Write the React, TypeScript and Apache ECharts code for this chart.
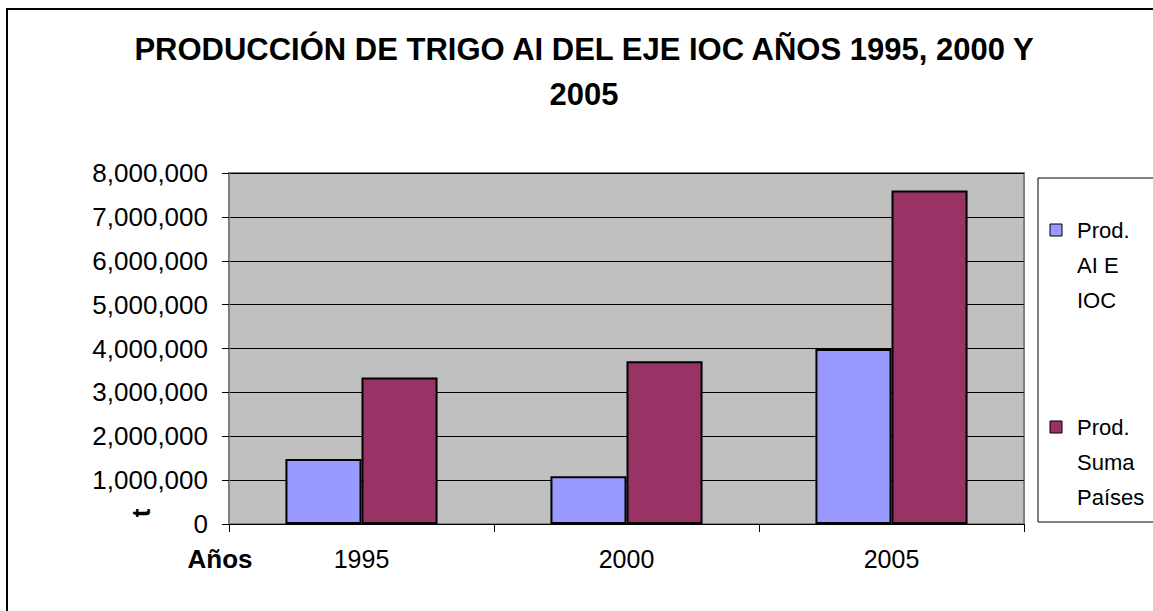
import React, { useEffect, useRef } from "react";
import * as echarts from "echarts";

const categories = ["1995", "2000", "2005"];
const seriesNames = ["Prod. AI E IOC", "Prod. Suma Países"];
const legendLines = [["Prod.", "AI E", "IOC"], ["Prod.", "Suma", "Países"]];
const prodAIE = [1480000, 1090000, 3990000];
const prodSuma = [3340000, 3710000, 7600000];
const colors = ["#9999FF", "#993366"];
const titleLines = ["PRODUCCIÓN DE TRIGO AI DEL EJE IOC AÑOS 1995, 2000 Y", "2005"];

const FONT = "'Liberation Sans', Arial, sans-serif";

export default function App() {
  const ref = useRef<HTMLDivElement>(null);
  useEffect(() => {
    if (!ref.current) return;
    const chart = echarts.init(ref.current, null, { renderer: "svg" });
    const legendGraphics: any[] = [];
    legendLines.forEach((lines, i) => {
      const baseY = 230 + i * 197;
      legendGraphics.push({
        type: "rect",
        shape: { x: 1050, y: baseY - 6, width: 12, height: 12 },
        style: { fill: colors[i], stroke: "#000", lineWidth: 1 },
        z: 10,
      });
      lines.forEach((t, j) => {
        legendGraphics.push({
          type: "text",
          x: 1077,
          y: baseY + j * 35,
          style: { text: t, font: `22px ${FONT}`, fill: "#000", textVerticalAlign: "middle" },
          z: 10,
        });
      });
    });
    chart.setOption({
      animation: false,
      backgroundColor: "#fff",
      grid: {
        left: 229,
        right: 129,
        top: 173,
        bottom: 87,
        show: true,
        backgroundColor: "#C0C0C0",
        borderColor: "#808080",
        borderWidth: 2,
        containLabel: false,
      },
      xAxis: {
        type: "category",
        data: categories,
        axisLine: { lineStyle: { color: "#000", width: 1 } },
        axisTick: { show: true, length: 8, lineStyle: { color: "#000" } },
        axisLabel: { fontFamily: FONT, fontSize: 25, color: "#000", margin: 22 },
      },
      yAxis: {
        type: "value",
        min: 0,
        max: 8000000,
        interval: 1000000,
        axisLine: { show: true, lineStyle: { color: "#808080", width: 2 } },
        axisTick: { show: true, length: 7, lineStyle: { color: "#000" } },
        splitLine: { lineStyle: { color: "#000", width: 1 } },
        axisLabel: {
          fontFamily: FONT,
          fontSize: 26,
          color: "#000",
          margin: 21,
          formatter: (v: number) => v.toLocaleString("en-US"),
        },
      },
      series: [
        {
          name: seriesNames[0],
          type: "bar",
          data: prodAIE,
          barGap: "0%",
          barCategoryGap: "42.6%",
          itemStyle: { color: colors[0], borderColor: "#000", borderWidth: 2 },
        },
        {
          name: seriesNames[1],
          type: "bar",
          data: prodSuma,
          barGap: "0%",
          barCategoryGap: "42.6%",
          itemStyle: { color: colors[1], borderColor: "#000", borderWidth: 2 },
        },
      ],
      graphic: [
        {
          type: "rect",
          shape: { x: 7, y: 9, width: 1170, height: 640 },
          style: { fill: "none", stroke: "#000", lineWidth: 2 },
          silent: true,
          z: -1,
        },
        {
          type: "text",
          x: 584,
          y: 49,
          style: { text: titleLines[0], font: `bold 31px ${FONT}`, fill: "#000", textAlign: "center", textVerticalAlign: "middle" },
        },
        {
          type: "text",
          x: 584,
          y: 94,
          style: { text: titleLines[1], font: `bold 31px ${FONT}`, fill: "#000", textAlign: "center", textVerticalAlign: "middle" },
        },
        {
          type: "text",
          x: 141,
          y: 513,
          rotation: Math.PI / 2,
          style: { text: "t", font: `bold 26px ${FONT}`, fill: "#000", textAlign: "center", textVerticalAlign: "middle" },
        },
        {
          type: "text",
          x: 220,
          y: 559,
          style: { text: "Años", font: `bold 26px ${FONT}`, fill: "#000", textAlign: "center", textVerticalAlign: "middle" },
        },
        {
          type: "rect",
          shape: { x: 1038, y: 178, width: 200, height: 344 },
          style: { fill: "#fff", stroke: "#000", lineWidth: 1 },
          z: 5,
        },
        ...legendGraphics,
      ],
    });
    return () => chart.dispose();
  }, []);
  return (
    <div
      ref={ref}
      style={{ position: "fixed", left: 0, top: 0, width: 1153, height: 611 }}
    />
  );
}
